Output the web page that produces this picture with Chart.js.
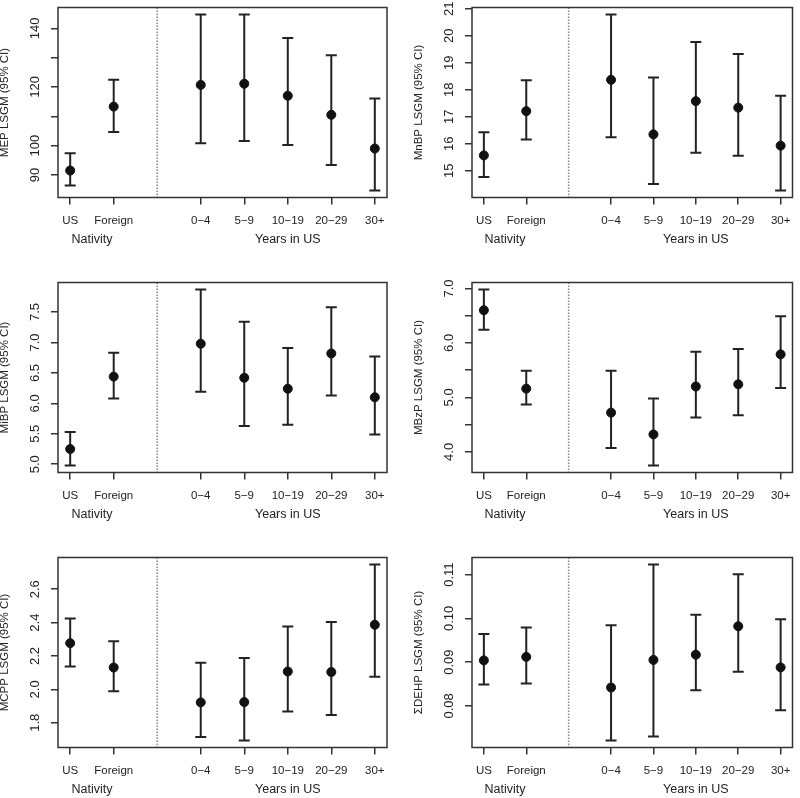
<!DOCTYPE html>
<html>
<head>
<meta charset="utf-8">
<script src="https://cdn.jsdelivr.net/npm/chart.js@4.4.1/dist/chart.umd.min.js"></script>
<style>
  html, body { margin: 0; padding: 0; background: #fff; }
  #wrap { position: relative; width: 800px; height: 798px; overflow: hidden; background: #fff; }
  canvas { position: absolute; }
</style>
</head>
<body>
<div id="wrap">
  <canvas id="c0" width="400" height="275" style="left:0;top:0"></canvas>
  <canvas id="c1" width="386" height="275" style="left:414px;top:0"></canvas>
  <canvas id="c2" width="400" height="275" style="left:0;top:275px"></canvas>
  <canvas id="c3" width="386" height="275" style="left:414px;top:275px"></canvas>
  <canvas id="c4" width="400" height="248" style="left:0;top:550px"></canvas>
  <canvas id="c5" width="386" height="248" style="left:414px;top:550px"></canvas>
</div>
<script>
// categories (x positions as R plotted them, 3 = dotted divider)
const xPositions = [1, 2, 4, 5, 6, 7, 8];
const xLabels = ["US", "Foreign", "0\u22124", "5\u22129", "10\u221219", "20\u221229", "30+"];
const groupPositions = [1.5, 6];
const groupLabels = ["Nativity", "Years in US"];
const dividerX = 3;

// MEP
const mepEst = [91.5, 113.3, 120.7, 121.1, 117.0, 110.5, 99.0];
const mepLo = [86.4, 104.6, 100.8, 101.6, 100.2, 93.4, 84.7];
const mepHi = [97.4, 122.5, 144.7, 144.7, 136.7, 130.8, 116.1];
const mepTicks = [90, 100, 110, 120, 130, 140];
const mepTickLabels = ["90", "100", "", "120", "", "140"];

// MnBP
const mnbpEst = [15.57, 17.21, 18.37, 16.35, 17.58, 17.34, 15.93];
const mnbpLo = [14.77, 16.16, 16.24, 14.51, 15.67, 15.56, 14.27];
const mnbpHi = [16.43, 18.35, 20.79, 18.46, 19.77, 19.33, 17.78];
const mnbpTicks = [15, 16, 17, 18, 19, 20, 21];
const mnbpTickLabels = ["15", "16", "17", "18", "19", "20", "21"];

// MiBP
const mibpEst = [5.25, 6.44, 6.98, 6.42, 6.24, 6.82, 6.10];
const mibpLo = [4.98, 6.08, 6.19, 5.63, 5.65, 6.13, 5.49];
const mibpHi = [5.53, 6.83, 7.87, 7.34, 6.91, 7.58, 6.77];
const mibpTicks = [5.0, 5.5, 6.0, 6.5, 7.0, 7.5];
const mibpTickLabels = ["5.0", "5.5", "6.0", "6.5", "7.0", "7.5"];

// MBzP
const mbzpEst = [6.60, 5.16, 4.72, 4.32, 5.20, 5.24, 5.79];
const mbzpLo = [6.24, 4.87, 4.07, 3.75, 4.63, 4.67, 5.17];
const mbzpHi = [6.98, 5.49, 5.49, 4.98, 5.84, 5.89, 6.49];
const mbzpTicks = [4.0, 4.5, 5.0, 5.5, 6.0, 6.5, 7.0];
const mbzpTickLabels = ["4.0", "", "5.0", "", "6.0", "", "7.0"];

// MCPP
const mcppEst = [2.277, 2.131, 1.922, 1.924, 2.107, 2.104, 2.387];
const mcppLo = [2.137, 1.989, 1.714, 1.694, 1.867, 1.846, 2.076];
const mcppHi = [2.425, 2.289, 2.159, 2.188, 2.377, 2.403, 2.748];
const mcppTicks = [1.8, 2.0, 2.2, 2.4, 2.6];
const mcppTickLabels = ["1.8", "2.0", "2.2", "2.4", "2.6"];

// sum DEHP
const dehpEst = [0.0904, 0.0912, 0.0842, 0.0905, 0.0917, 0.0982, 0.0888];
const dehpLo = [0.0849, 0.0851, 0.0721, 0.0730, 0.0836, 0.0878, 0.0790];
const dehpHi = [0.0964, 0.0979, 0.0984, 0.1123, 0.1008, 0.1101, 0.0998];
const dehpTicks = [0.08, 0.09, 0.10, 0.11];
const dehpTickLabels = ["0.08", "0.09", "0.10", "0.11"];

const FONT = '"Liberation Sans", Arial, Helvetica, sans-serif';
const INK = "#222";
const LINE = "#333";

function initChart(canvasId, title, est, lo, hi, yTicks, yTickLabels) {
    const canvas = document.getElementById(canvasId);
    const ctx = canvas.getContext("2d");
    const isRight = canvas.width < 400;

    // R style axis range: data range + 4% each side
    const xMin = Math.min(...xPositions), xMax = Math.max(...xPositions);
    const xPad = 0.04 * (xMax - xMin);
    const yMin = Math.min(...lo), yMax = Math.max(...hi);
    const yPad = 0.04 * (yMax - yMin);

    const barData = [];
    xPositions.forEach((x, i) => {
        barData.push({ x: x, y: lo[i] }, { x: x, y: hi[i] }, { x: x, y: null });
    });

    const panelPlugin = {
        id: "panel",
        beforeDatasetsDraw(chart) {
            const a = chart.chartArea;
            const px = chart.scales.x.getPixelForValue(dividerX);
            const c = chart.ctx;
            c.save();
            c.strokeStyle = "#888";
            c.lineWidth = 1.5;
            c.setLineDash([1.5, 1.5]);
            c.beginPath();
            c.moveTo(px, a.top);
            c.lineTo(px, a.bottom);
            c.stroke();
            c.restore();
        },
        afterDraw(chart) {
            const a = chart.chartArea;
            const c = chart.ctx;
            const yScale = chart.scales.y;
            c.save();
            c.strokeStyle = LINE;
            c.lineWidth = 1.5;
            c.strokeRect(a.left, a.top, a.right - a.left, a.bottom - a.top);
            // rotated y tick labels, like R's las = 0
            c.fillStyle = INK;
            c.font = "13px " + FONT;
            c.textAlign = "center";
            c.textBaseline = "middle";
            yTicks.forEach((v, i) => {
                if (!yTickLabels[i]) return;
                c.save();
                c.translate(a.left - 22.5, yScale.getPixelForValue(v));
                c.rotate(-Math.PI / 2);
                c.fillText(yTickLabels[i], 0, 0);
                c.restore();
            });
            c.restore();
        },
    };

    const noPadding = (scale) => {
        scale.paddingLeft = 0;
        scale.paddingRight = 0;
        scale.paddingTop = 0;
        scale.paddingBottom = 0;
    };

    return new Chart(ctx, {
        type: "scatter",
        data: {
            datasets: [
                {
                    type: "scatter",
                    label: "LSGM",
                    data: xPositions.map((x, i) => ({ x: x, y: est[i] })),
                    xAxisID: "x",
                    yAxisID: "y",
                    pointRadius: 4.5,
                    pointBackgroundColor: "#111",
                    pointBorderColor: "#111",
                    pointBorderWidth: 1,
                },
                {
                    type: "line",
                    label: "95% CI",
                    data: barData,
                    xAxisID: "x",
                    yAxisID: "y",
                    borderColor: INK,
                    borderWidth: 2,
                    spanGaps: false,
                    fill: false,
                    pointStyle: "line",
                    pointRadius: 5.5,
                    pointBorderWidth: 2,
                    pointBorderColor: INK,
                },
            ],
        },
        options: {
            responsive: false,
            animation: false,
            layout: {
                padding: { top: 4.5, right: isRight ? 1 : 13, bottom: canvas.height - 248, left: 0 },
            },
            plugins: {
                legend: { display: false },
                tooltip: { enabled: false },
            },
            scales: {
                x: {
                    type: "linear",
                    position: "bottom",
                    weight: 0,
                    min: xMin - xPad,
                    max: xMax + xPad,
                    afterBuildTicks: (scale) => {
                        scale.ticks = xPositions.map((v) => ({ value: v }));
                    },
                    afterFit: (scale) => {
                        scale.height = 32;
                        noPadding(scale);
                    },
                    border: { display: false },
                    grid: { drawOnChartArea: false, tickLength: 7, color: LINE, lineWidth: 1.5 },
                    ticks: {
                        autoSkip: false,
                        maxRotation: 0,
                        padding: 9,
                        color: INK,
                        font: { family: FONT, size: 11.5 },
                        callback: (v) => xLabels[xPositions.indexOf(v)],
                    },
                },
                x2: {
                    type: "linear",
                    axis: "x",
                    position: "bottom",
                    weight: 1,
                    min: xMin - xPad,
                    max: xMax + xPad,
                    afterBuildTicks: (scale) => {
                        scale.ticks = groupPositions.map((v) => ({ value: v }));
                    },
                    afterFit: (scale) => {
                        scale.height = 18.5;
                        noPadding(scale);
                    },
                    border: { display: false },
                    grid: { display: false, drawTicks: false },
                    ticks: {
                        autoSkip: false,
                        maxRotation: 0,
                        padding: 2.5,
                        color: INK,
                        font: { family: FONT, size: 12.5 },
                        callback: (v) => groupLabels[groupPositions.indexOf(v)],
                    },
                },
                y: {
                    type: "linear",
                    position: "left",
                    min: yMin - yPad,
                    max: yMax + yPad,
                    afterBuildTicks: (scale) => {
                        scale.ticks = yTicks.map((v) => ({ value: v }));
                    },
                    afterFit: (scale) => {
                        scale.width = 58;
                        noPadding(scale);
                    },
                    border: { display: false },
                    grid: { drawOnChartArea: false, tickLength: 7, color: LINE, lineWidth: 1.5 },
                    ticks: { display: false },
                    title: {
                        display: true,
                        text: title,
                        color: INK,
                        padding: 0,
                        font: { family: FONT, size: 11.5, lineHeight: 0.9 },
                    },
                },
            },
        },
        plugins: [panelPlugin],
    });
}

initChart("c0", "MEP LSGM (95% CI)", mepEst, mepLo, mepHi, mepTicks, mepTickLabels);
initChart("c1", "MnBP LSGM (95% CI)", mnbpEst, mnbpLo, mnbpHi, mnbpTicks, mnbpTickLabels);
initChart("c2", "MiBP LSGM (95% CI)", mibpEst, mibpLo, mibpHi, mibpTicks, mibpTickLabels);
initChart("c3", "MBzP LSGM (95% CI)", mbzpEst, mbzpLo, mbzpHi, mbzpTicks, mbzpTickLabels);
initChart("c4", "MCPP LSGM (95% CI)", mcppEst, mcppLo, mcppHi, mcppTicks, mcppTickLabels);
initChart("c5", "\u03a3DEHP LSGM (95% CI)", dehpEst, dehpLo, dehpHi, dehpTicks, dehpTickLabels);
</script>
</body>
</html>
